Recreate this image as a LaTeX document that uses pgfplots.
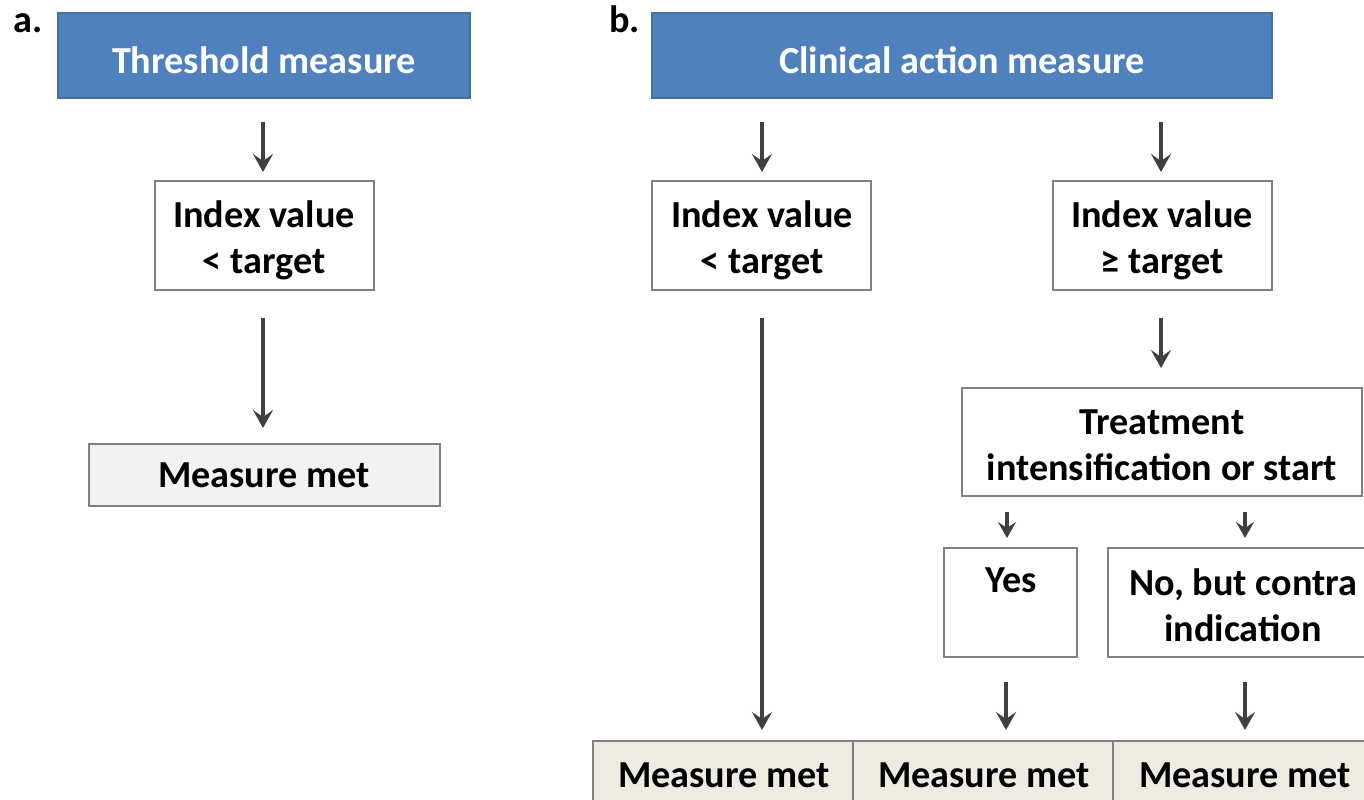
\documentclass[border=0pt]{standalone}
\usepackage{pgfplots}
\pgfplotsset{compat=1.18}
\usepackage{fontspec}
\setmainfont{Carlito}
\usetikzlibrary{arrows.meta}
\definecolor{hdrblue}{HTML}{4F81BD}
\definecolor{hdredge}{HTML}{41719C}
\definecolor{boxedge}{HTML}{808080}
\definecolor{arr}{HTML}{404040}
\definecolor{metgray}{HTML}{F2F2F2}
\definecolor{tan}{HTML}{EEECE1}
\begin{document}
\begin{tikzpicture}[
  arw/.style={draw=arr, line width=2pt, -{Stealth[length=9pt,width=10pt,inset=3.5pt]}},
  sarw/.style={draw=arr, line width=2pt, -{Stealth[length=8pt,width=9pt,inset=3pt]}},
  bx/.style={draw=boxedge, line width=0.8pt},
  txt/.style={font=\fontsize{19.1}{23}\selectfont\bfseries, align=center, text=black, inner sep=0pt}
]
\begin{axis}[
  xmin=0, xmax=1364, ymin=0, ymax=799, y dir=reverse,
  width=682pt, height=399.5pt, scale only axis, hide axis, clip=true
]
% panel labels
\node[txt, anchor=base west] at (axis cs:13,32) {a.};
\node[txt, anchor=base west] at (axis cs:609,32) {b.};
% headers
\draw[fill=hdrblue, draw=hdredge, line width=0.8pt] (axis cs:58,13) rectangle (axis cs:470,98);
\node[txt, text=white] at (axis cs:264,60) {Threshold measure};
\draw[fill=hdrblue, draw=hdredge, line width=0.8pt] (axis cs:652,13) rectangle (axis cs:1272,98);
\node[txt, text=white] at (axis cs:962,60) {Clinical action measure};
% panel a
\draw[arw] (axis cs:263,122) -- (axis cs:263,172);
\draw[bx, fill=white] (axis cs:155,181) rectangle (axis cs:374,290);
\node[txt] at (axis cs:264,240) {Index value\\{<} target};
\draw[arw] (axis cs:263,318) -- (axis cs:263,428);
\draw[bx, fill=metgray] (axis cs:89,444) rectangle (axis cs:440,506);
\node[txt] at (axis cs:264,475) {Measure met};
% panel b, left branch
\draw[arw] (axis cs:762,122) -- (axis cs:762,172);
\draw[bx, fill=white] (axis cs:652,181) rectangle (axis cs:871,290);
\node[txt] at (axis cs:762,240) {Index value\\{<} target};
\draw[arw] (axis cs:762,318) -- (axis cs:762,730);
% panel b, right branch
\draw[arw] (axis cs:1161,122) -- (axis cs:1161,172);
\draw[bx, fill=white] (axis cs:1053,181) rectangle (axis cs:1272,290);
\node[txt] at (axis cs:1162,240) {Index value\\≥ target};
\draw[arw] (axis cs:1161,318) -- (axis cs:1161,368);
\draw[bx, fill=white] (axis cs:962,388) rectangle (axis cs:1362,496);
\node[txt] at (axis cs:1162,445) {Treatment\\intensification or start};
\draw[sarw] (axis cs:1007,512) -- (axis cs:1007,538);
\draw[sarw] (axis cs:1245,512) -- (axis cs:1245,538);
\draw[bx, fill=white] (axis cs:944,548) rectangle (axis cs:1077,657);
\node[txt] at (axis cs:1011,580) {Yes};
\draw[bx, fill=white] (axis cs:1108,548) rectangle (axis cs:1380,657);
\node[txt] at (axis cs:1243,605) {No, but contra\\indication};
\draw[arw] (axis cs:1006,682) -- (axis cs:1006,730);
\draw[arw] (axis cs:1245,682) -- (axis cs:1245,730);
% bottom row
\draw[bx, fill=tan] (axis cs:593,741) rectangle (axis cs:853,815);
\draw[bx, fill=tan] (axis cs:853,741) rectangle (axis cs:1113,815);
\draw[bx, fill=tan] (axis cs:1113,741) rectangle (axis cs:1380,815);
\node[txt] at (axis cs:724,775) {Measure met};
\node[txt] at (axis cs:984,775) {Measure met};
\node[txt] at (axis cs:1245,775) {Measure met};
\end{axis}
\pgfresetboundingbox
\path (current axis.south west) rectangle (current axis.north east);
\end{tikzpicture}
\end{document}
